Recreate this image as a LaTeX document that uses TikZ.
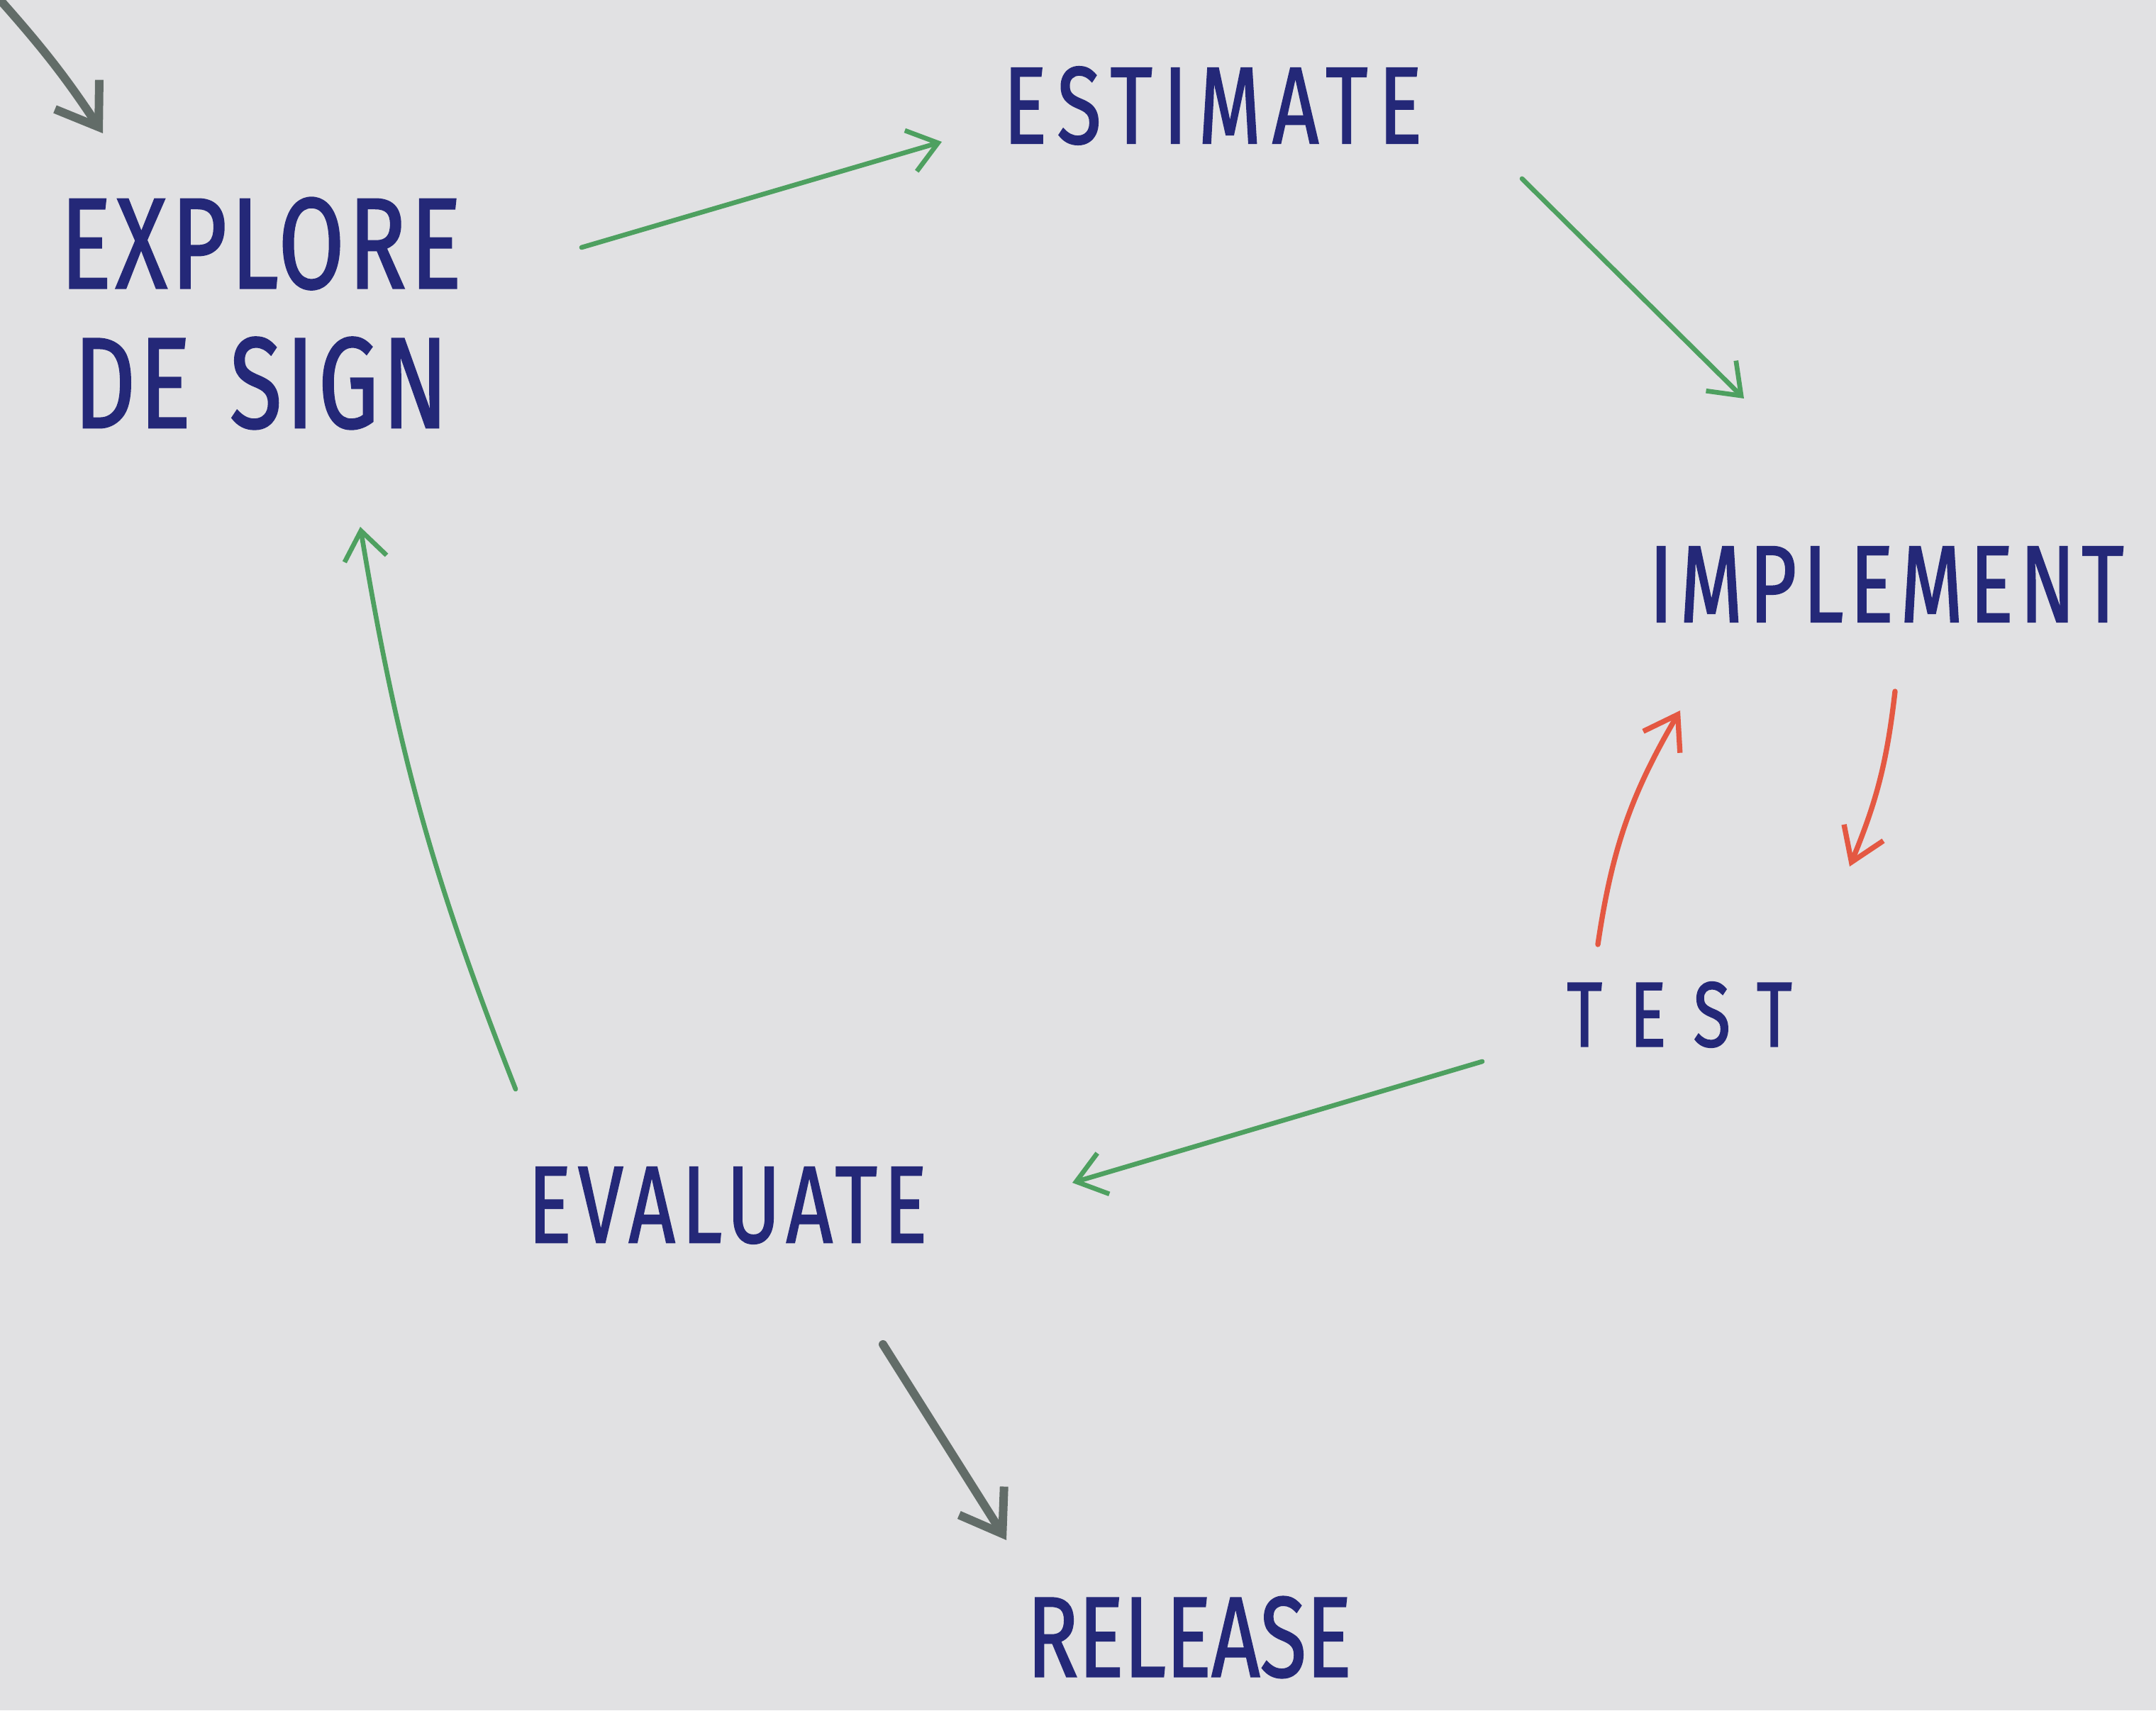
\documentclass[tikz,border=0pt]{standalone}
\usepackage{fontspec}
\usepackage{xcolor}
\usepackage{tikz}
\usetikzlibrary{arrows.meta}
\newfontfamily\handfont[FakeStretch=0.74,FakeBold=1.2]{Fira Sans}
\definecolor{paper}{RGB}{225,225,227}
\definecolor{ink}{RGB}{36,40,120}
\definecolor{pengreen}{RGB}{78,160,96}
\definecolor{penred}{RGB}{228,88,66}
\definecolor{pengray}{RGB}{98,108,104}
\tikzstyle{tsHand} = [
    text=ink,
    inner sep=0pt,
    align=center
]
\tikzstyle{tsFlow} = [
    draw=pengreen,
    line width=1.9pt,
    line cap=round,
    -{Straight Barb[length=4mm,width=6mm,line width=1.9pt]}
]
\tikzstyle{tsLoop} = [
    draw=penred,
    line width=2.1pt,
    line cap=round,
    -{Straight Barb[length=4.5mm,width=6mm,line width=2.1pt]}
]
\tikzstyle{tsExit} = [
    draw=pengray,
    line width=3.4pt,
    line cap=round,
    -{Straight Barb[length=5.5mm,width=7.5mm,line width=3.4pt]}
]

\begin{document}
\begin{tikzpicture}

        \useasboundingbox (0,0) rectangle (30.40,24.12);
        \fill[paper] (0,0) rectangle (30.40,24.12);

        \node[tsHand, font=\handfont\addfontfeatures{LetterSpace=3}\fontsize{52}{56}\selectfont] (explore) at (3.68,19.70) {EXPLORE\\DE\kern0.3em SIGN};
        \node[tsHand, font=\handfont\addfontfeatures{LetterSpace=10}\fontsize{44}{48}\selectfont] (estimate) at (17.10,22.63) {ESTIMATE};
        \node[tsHand, font=\handfont\addfontfeatures{LetterSpace=6}\fontsize{44}{48}\selectfont] (implement) at (26.60,15.88) {IMPLEMENT};
        \node[tsHand, font=\handfont\addfontfeatures{LetterSpace=30}\fontsize{37}{40}\selectfont] (test) at (23.68,9.81) {TEST};
        \node[tsHand, font=\handfont\addfontfeatures{LetterSpace=6}\fontsize{44}{48}\selectfont] (evaluate) at (10.26,7.12) {EVALUATE};
        \node[tsHand, font=\handfont\fontsize{46}{50}\selectfont] (release) at (16.77,1.03) {RELEASE};

        \coordinate (entry) at (0.02,24.10);

        % way in
        \draw[tsExit] (entry) to[bend left=4] ([shift={(-2.23,2.54)}]explore.center);

        % main cycle
        \draw[tsFlow] ([shift={(4.52,0.93)}]explore.center) -- ([shift={(-3.82,-0.51)}]estimate.center);
        \draw[tsFlow] ([shift={(4.36,-1.03)}]estimate.center) -- ([shift={(-2.01,2.62)}]implement.center);
        \draw[tsFlow] ([shift={(-2.78,-0.66)}]test.center) -- ([shift={(4.86,0.32)}]evaluate.center);
        \draw[tsFlow] ([shift={(-2.99,1.64)}]evaluate.center) to[bend left=6] ([shift={(1.40,-3.01)}]explore.center);

        % implement / test loop
        \draw[tsLoop] ([shift={(0.12,-1.51)}]implement.center) to[bend left=8] ([shift={(2.40,2.09)}]test.center);
        \draw[tsLoop] ([shift={(-1.15,0.99)}]test.center) to[bend left=11] ([shift={(-2.91,-1.78)}]implement.center);

        % way out
        \draw[tsExit] ([shift={(2.19,-1.96)}]evaluate.center) -- ([shift={(-2.58,1.37)}]release.center);

\end{tikzpicture}
\end{document}
